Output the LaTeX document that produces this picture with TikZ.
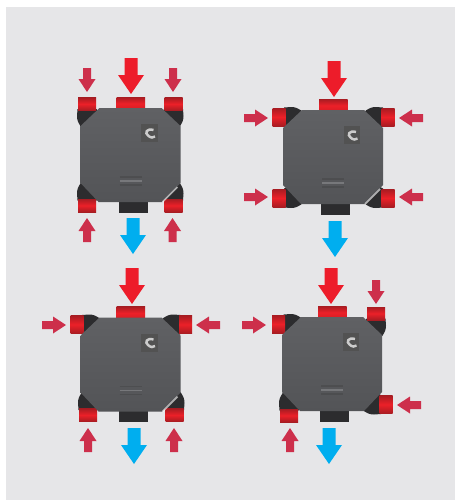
\documentclass[tikz,border=0pt]{standalone}
\definecolor{panelgray}{HTML}{E6E6E8}
\definecolor{bigred}{HTML}{ED1C2A}
\definecolor{smallred}{HTML}{CD2F4B}
\definecolor{flowblue}{HTML}{00AEEF}
\definecolor{bodygray}{HTML}{606164}
\definecolor{bodydark}{HTML}{535457}
\definecolor{portred}{HTML}{EC2028}
\definecolor{portdark}{HTML}{A81C22}
\definecolor{neck}{HTML}{2C2C2E}
\tikzset{
  x=0.01cm,y=-0.01cm,
  bigarrow/.pic={\fill[pic actions] (-6.5,-36) -- (6.5,-36) -- (6.5,-19) -- (13,-19) -- (0,0) -- (-13,-19) -- (-6.5,-19) -- cycle;},
  smallarrow/.pic={\fill[pic actions] (-4,-24) -- (4,-24) -- (4,-13) -- (8.5,-13) -- (0,0) -- (-8.5,-13) -- (-4,-13) -- cycle;},
  cornerport/.pic={% red cuff centred on origin, opening upward; neck runs toward the body
    \fill[neck] (-9.5,5) -- (-10,12) .. controls (-10,20) and (-5,25) .. (1,28) -- (14,14) -- (9.5,5) -- cycle;
    \shade[top color=portdark,bottom color=portdark,middle color=portred] (-9,-6.5) rectangle (9,6.5);
  },
  mainbody/.pic={
    \fill[neck] (-12,44) rectangle (17,57.5);
    \shade[top color=portdark,bottom color=portred!90!black,middle color=portred] (-14,-58) rectangle (14.5,-45);
    \shade[top color=bodygray,bottom color=bodydark] (-50,-29) -- (-50,28) -- (-32,47) -- (32,47) -- (50,28) -- (50,-29) -- (31,-47) -- (-31,-47) -- cycle;
    \fill[black!68] (10.5,-31) rectangle (27,-13);
    \draw[black!20,line width=.7pt] (23,-25) .. controls (16,-27) and (14,-22) .. (17.5,-19.5) .. controls (20,-17) and (23,-17) .. (24.5,-18.5);
    \draw[black!75,line width=.3pt,opacity=.4] (-11,22) -- (11,22) (-11,30) -- (11,30);
    \draw[white,line width=.3pt,opacity=.2] (-11,26) -- (11,26);
  },
  edgelight/.style={draw=white,opacity=.6,line width=.5pt}
}
\begin{document}
\begin{tikzpicture}
\useasboundingbox (0,0) rectangle (455,500);
\fill[white] (0,0) rectangle (455,500);
\fill[panelgray] (6,7) rectangle (455,500);

% top left unit
\begin{scope}[shift={(130.5,155)}]
  \pic at (-43.5,-51) {cornerport};
  \pic[xscale=-1] at (43,-51) {cornerport};
  \pic[yscale=-1] at (-43.5,50.5) {cornerport};
  \pic[xscale=-1,yscale=-1] at (43,50.5) {cornerport};
  \pic {mainbody};
  \draw[edgelight] (47,32) -- (32,47);
\end{scope}
\pic[fill=smallred] at (87,92) {smallarrow};
\pic[fill=smallred] at (173,92) {smallarrow};
\pic[fill=bigred] at (131,94) {bigarrow};
\pic[fill=smallred,yscale=-1] at (87,218) {smallarrow};
\pic[fill=smallred,yscale=-1] at (172.5,218) {smallarrow};
\pic[fill=flowblue] at (133,254) {bigarrow};

% top right unit
\begin{scope}[shift={(333,157)}]
  \pic[rotate=90,xscale=-1] at (-54,-40) {cornerport};
  \pic[rotate=-90] at (55,-40) {cornerport};
  \pic[rotate=90] at (-54,41) {cornerport};
  \pic[rotate=-90,xscale=-1] at (55,41) {cornerport};
  \pic {mainbody};
  \draw[edgelight] (47,32) -- (32,47);
\end{scope}
\pic[fill=bigred] at (334,97) {bigarrow};
\pic[fill=smallred,rotate=90] at (268,118) {smallarrow};
\pic[fill=smallred,rotate=90] at (268,197) {smallarrow};
\pic[fill=smallred,rotate=-90] at (399,118) {smallarrow};
\pic[fill=smallred,rotate=-90] at (399,197) {smallarrow};
\pic[fill=flowblue] at (335,257) {bigarrow};

% bottom left unit
\begin{scope}[shift={(130.5,364.5)}]
  \pic[rotate=90,xscale=-1] at (-53.5,-40) {cornerport};
  \pic[rotate=-90] at (55,-40) {cornerport};
  \pic[yscale=-1] at (-42.5,50.5) {cornerport};
  \pic[xscale=-1,yscale=-1] at (44,50.5) {cornerport};
  \pic {mainbody};
  \draw[edgelight] (47,32) -- (32,47);
\end{scope}
\pic[fill=bigred] at (132,304) {bigarrow};
\pic[fill=smallred,rotate=90] at (66,325) {smallarrow};
\pic[fill=smallred,rotate=-90] at (196,325) {smallarrow};
\pic[fill=smallred,yscale=-1] at (88,428) {smallarrow};
\pic[fill=smallred,yscale=-1] at (174,428) {smallarrow};
\pic[fill=flowblue] at (134,464) {bigarrow};

% bottom right unit
\begin{scope}[shift={(332,364)}]
  \pic[rotate=90,xscale=-1] at (-53.5,-40) {cornerport};
  \pic[xscale=-1] at (44,-50.5) {cornerport};
  \pic[yscale=-1] at (-43,51.5) {cornerport};
  \pic[rotate=-90,xscale=-1] at (54,40.5) {cornerport};
  \pic {mainbody};
\end{scope}
\pic[fill=bigred] at (331,304) {bigarrow};
\pic[fill=smallred] at (376,304) {smallarrow};
\pic[fill=smallred,rotate=90] at (266,325) {smallarrow};
\pic[fill=smallred,rotate=-90] at (397,405) {smallarrow};
\pic[fill=smallred,yscale=-1] at (290,428) {smallarrow};
\pic[fill=flowblue] at (329,464) {bigarrow};
\end{tikzpicture}
\end{document}
